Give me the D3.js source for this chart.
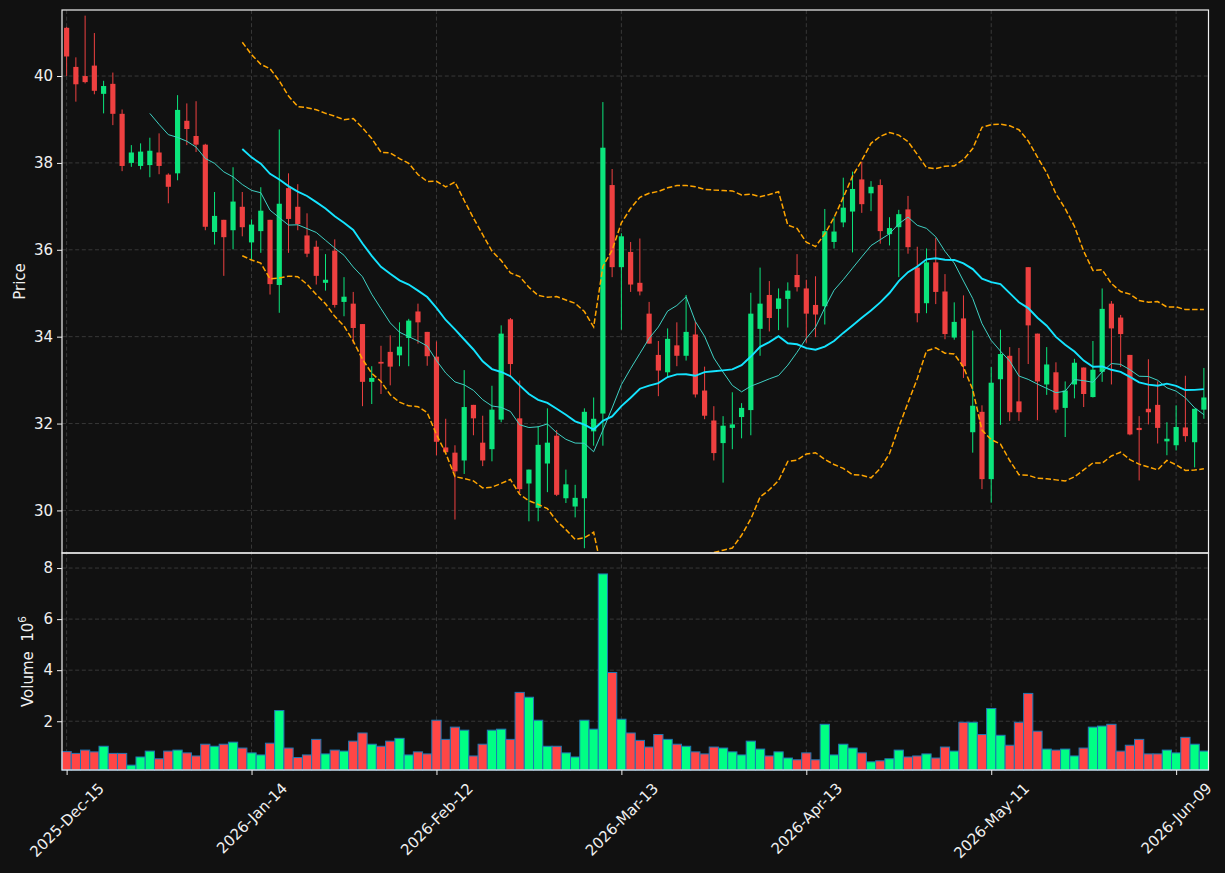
<!DOCTYPE html>
<html>
<head>
<meta charset="utf-8">
<script src="https://cdn.jsdelivr.net/npm/d3@7"></script>
<style>
  body { margin: 0; background: #111111; }
  text { font-family: "DejaVu Sans", sans-serif; fill: #f0f0f0; }
</style>
</head>
<body>
<div id="chart"></div>
<script>
// daily bars (index 0 = 2025-Dec-15)
const openP = [41.11,40.21,40.00,40.24,39.59,39.82,39.13,38.00,37.93,37.95,
  38.24,37.73,37.76,38.97,38.62,38.42,36.41,36.69,36.45,36.99,
  36.17,36.43,36.69,35.19,37.42,36.99,36.33,36.07,35.24,35.98,
  34.80,34.76,34.29,32.96,33.42,33.65,33.57,33.97,34.58,34.11,
  33.54,31.45,31.33,31.15,32.43,31.56,31.41,32.09,34.40,32.12,
  30.62,30.06,31.08,31.72,30.28,30.09,30.28,31.82,32.23,37.49,
  35.60,35.95,35.24,34.53,33.58,33.18,33.80,33.56,34.05,32.76,
  32.07,31.55,31.90,32.15,32.31,34.18,34.96,34.64,34.87,35.42,
  35.11,34.73,34.70,36.18,36.63,36.88,37.62,37.30,37.49,36.36,
  36.52,36.93,35.59,34.77,35.71,35.04,33.98,34.42,31.80,32.27,
  30.72,33.02,33.56,32.51,35.60,34.07,32.90,33.18,32.36,32.90,
  33.29,32.61,33.19,34.76,34.44,33.58,31.90,32.34,32.43,31.59,
  31.50,31.91,31.57,32.32];
const highP = [41.13,40.43,41.39,40.99,39.89,40.08,39.23,38.41,38.45,38.58,
  38.68,37.76,39.56,39.37,39.42,38.44,37.33,36.69,37.90,37.33,
  36.70,37.44,36.69,38.77,37.76,37.51,36.84,36.21,35.90,36.24,
  35.37,35.03,34.29,33.32,33.79,34.03,34.33,34.41,34.76,34.11,
  33.89,32.11,31.50,33.23,32.43,32.18,32.87,34.26,34.43,32.99,
  30.94,31.94,32.35,31.85,30.94,30.59,32.35,32.60,39.40,37.86,
  36.38,36.18,36.26,34.80,33.90,34.19,34.33,34.96,34.35,33.31,
  32.40,32.17,32.72,32.47,35.01,35.59,35.28,35.11,35.25,35.90,
  35.31,35.39,36.94,36.76,37.66,37.80,38.03,37.58,37.62,36.75,
  36.92,37.24,36.07,36.03,36.27,35.44,34.79,34.95,34.14,32.42,
  33.30,34.16,33.76,33.74,35.60,34.07,33.76,33.41,32.97,33.49,
  33.29,33.90,35.11,34.82,34.50,33.58,32.17,33.48,32.97,32.03,
  32.42,33.10,32.34,33.28];
const lowP = [40.00,39.41,39.83,39.58,39.14,38.87,37.81,37.91,37.85,37.67,
  37.74,37.07,37.60,38.41,38.25,36.45,36.12,35.40,36.01,36.31,
  35.77,35.93,34.97,34.55,35.93,36.45,35.83,35.20,35.06,34.67,
  34.47,33.84,32.40,32.45,32.68,32.88,33.32,33.32,33.84,33.33,
  31.27,31.33,29.79,30.84,31.73,31.02,31.13,32.03,33.07,30.40,
  29.75,29.75,30.42,30.33,30.17,29.84,29.13,31.49,31.49,35.37,
  34.16,35.03,34.95,33.84,32.63,33.05,33.32,33.45,32.60,32.10,
  31.15,30.64,31.41,31.66,31.73,33.56,34.12,34.15,34.21,35.04,
  33.86,33.99,34.28,36.03,36.52,35.94,36.85,36.89,36.14,36.10,
  35.37,35.91,34.33,34.54,34.75,33.94,33.93,33.05,31.33,30.49,
  30.18,31.97,32.06,32.06,33.37,32.08,32.66,32.25,31.69,32.58,
  32.38,32.60,32.96,32.90,33.30,31.73,30.69,31.98,31.54,31.27,
  31.38,31.58,30.99,32.11];
const closeP = [40.45,39.81,39.86,39.66,39.77,39.13,37.93,38.24,38.26,38.28,
  37.93,37.45,39.22,38.78,38.42,36.53,36.78,36.29,37.11,36.52,
  36.58,36.90,35.21,37.06,36.71,36.59,35.91,35.40,35.31,34.73,
  34.92,34.20,32.96,33.05,33.38,33.31,33.77,34.37,34.33,33.55,
  31.58,31.34,30.90,32.38,32.12,31.15,32.32,34.07,33.37,30.49,
  30.94,31.51,31.56,30.36,30.60,30.29,32.27,32.11,38.35,35.60,
  36.31,35.20,35.04,33.84,33.22,33.95,33.56,34.11,32.67,32.18,
  31.32,31.95,31.98,32.36,34.53,34.76,34.43,34.88,35.06,35.14,
  34.53,34.51,36.43,36.42,36.97,37.40,37.05,37.45,36.43,36.50,
  36.82,36.06,34.54,35.71,35.03,34.06,34.34,33.32,32.41,30.72,
  32.94,33.60,32.26,32.26,34.26,32.97,33.36,32.32,32.76,33.40,
  32.68,33.24,34.64,34.19,34.06,31.75,31.85,32.26,31.90,31.65,
  31.92,31.71,32.34,32.60];
// volume in millions
const volume = [0.81,0.74,0.87,0.80,1.02,0.74,0.74,0.28,0.60,0.83,
  0.53,0.83,0.87,0.76,0.64,1.10,1.02,1.10,1.18,0.95,
  0.76,0.68,1.14,2.42,0.95,0.58,0.68,1.29,0.72,0.87,
  0.83,1.22,1.54,1.10,1.02,1.22,1.33,0.68,0.80,0.72,
  2.04,1.29,1.77,1.65,0.64,1.10,1.65,1.69,1.29,3.13,
  2.94,2.04,1.02,1.02,0.76,0.60,2.04,1.69,7.77,3.91,
  2.08,1.54,1.25,0.99,1.48,1.29,1.10,1.02,0.80,0.72,
  0.99,0.95,0.80,0.68,1.22,0.91,0.64,0.80,0.56,0.49,
  0.76,0.49,1.88,0.68,1.10,0.95,0.76,0.41,0.45,0.53,
  0.87,0.60,0.64,0.72,0.56,0.99,0.83,1.96,1.96,1.48,
  2.50,1.45,1.06,1.96,3.09,1.61,0.91,0.87,0.91,0.64,
  0.95,1.77,1.81,1.88,0.83,1.06,1.29,0.72,0.72,0.87,
  0.76,1.37,1.10,0.83];

const tickIdx = [0, 20, 40, 60, 80, 100, 120];
const tickLabels = ["2025-Dec-15", "2026-Jan-14", "2026-Feb-12", "2026-Mar-13",
                    "2026-Apr-13", "2026-May-11", "2026-Jun-09"];
const priceTicks = [30, 32, 34, 36, 38, 40];
const volTicks = [2, 4, 6, 8];

const W = 1225, H = 873;
const LEFT = 62, RIGHT = 1208.5, PTOP = 10, PBOT = 553, VBOT = 770;
const FS = 15;
const UP = "#0be57c", DOWN = "#ee4040", VUP = "#00ff84", VDOWN = "#ff4646";

const svg = d3.select("#chart").append("svg")
    .attr("width", W)
    .attr("height", H);

svg.append("rect").attr("width", W).attr("height", H).attr("fill", "#111111");

const x = d3.scaleLinear().domain([-0.5, 123.5]).range([LEFT, RIGHT]);
const yP = d3.scaleLinear().domain([29.02, 41.52]).range([PBOT, PTOP]);
const yV = d3.scaleLinear().domain([0.09, 8.59]).range([VBOT, PBOT]);
const step = x(1) - x(0);
const idx = d3.range(closeP.length);

svg.append("clipPath").attr("id", "clipPrice")
  .append("rect").attr("x", LEFT).attr("y", PTOP).attr("width", RIGHT - LEFT).attr("height", PBOT - PTOP);

//grids
const grid = svg.append("g")
    .attr("stroke", "#3c3c3c")
    .attr("stroke-width", 0.9)
    .attr("stroke-dasharray", "4,2.6");

grid.selectAll(".vg").data(tickIdx).enter().append("line")
    .attr("x1", d => x(d)).attr("x2", d => x(d))
    .attr("y1", PTOP).attr("y2", VBOT);
grid.selectAll(".hp").data(priceTicks).enter().append("line")
    .attr("x1", LEFT).attr("x2", RIGHT)
    .attr("y1", d => yP(d)).attr("y2", d => yP(d));
grid.selectAll(".hv").data(volTicks).enter().append("line")
    .attr("x1", LEFT).attr("x2", RIGHT)
    .attr("y1", d => yV(d)).attr("y2", d => yV(d));

//volume bars
svg.append("g").selectAll("rect").data(idx).enter().append("rect")
    .attr("x", i => x(i) - step / 2)
    .attr("width", step)
    .attr("y", i => yV(volume[i]))
    .attr("height", i => VBOT - yV(volume[i]))
    .attr("fill", i => closeP[i] >= openP[i] ? VUP : VDOWN)
    .attr("stroke", "#1f77b4")
    .attr("stroke-width", 1);

//candles
const priceG = svg.append("g").attr("clip-path", "url(#clipPrice)");
const bw = step * 0.56;

priceG.append("g").selectAll("line").data(idx).enter().append("line")
    .attr("x1", i => x(i)).attr("x2", i => x(i))
    .attr("y1", i => yP(highP[i])).attr("y2", i => yP(lowP[i]))
    .attr("stroke", i => closeP[i] >= openP[i] ? UP : DOWN)
    .attr("stroke-width", 1);

priceG.append("g").selectAll("rect").data(idx).enter().append("rect")
    .attr("x", i => x(i) - bw / 2)
    .attr("width", bw)
    .attr("y", i => yP(Math.max(openP[i], closeP[i])))
    .attr("height", i => Math.max(1, Math.abs(yP(openP[i]) - yP(closeP[i]))))
    .attr("fill", i => closeP[i] >= openP[i] ? UP : DOWN);

//moving averages and bands from the closes
function rolling(n, fn) {
    return idx.map(i => i < n - 1 ? null : fn(closeP.slice(i - n + 1, i + 1)));
}
const ma10 = rolling(10, d3.mean);
const ma20 = rolling(20, d3.mean);
const sd20 = rolling(20, a => { const m = d3.mean(a); return Math.sqrt(d3.mean(a, v => (v - m) * (v - m))); });
const upper = idx.map(i => ma20[i] == null ? null : ma20[i] + 2 * sd20[i]);
const lower = idx.map(i => ma20[i] == null ? null : ma20[i] - 2 * sd20[i]);

const lineOf = arr => d3.line()
    .defined(i => arr[i] != null)
    .x(i => x(i))
    .y(i => yP(arr[i]))(idx);

priceG.append("path").attr("d", lineOf(ma10))
    .attr("fill", "none").attr("stroke", "#3fd1c4").attr("stroke-width", 1);
priceG.append("path").attr("d", lineOf(ma20))
    .attr("fill", "none").attr("stroke", "#14e4ff").attr("stroke-width", 1.9);
[upper, lower].forEach(band => {
    priceG.append("path").attr("d", lineOf(band))
        .attr("fill", "none").attr("stroke", "#ffa500")
        .attr("stroke-width", 1.5).attr("stroke-dasharray", "5.5,2.4");
});

//axes
function styleAxis(g) {
    g.select(".domain").remove();
    g.selectAll(".tick line").attr("stroke", "#f0f0f0").attr("stroke-width", 1);
    g.selectAll(".tick text").attr("fill", "#f0f0f0").style("font-size", FS + "px")
        .style("font-family", "DejaVu Sans");
}

svg.append("g").attr("transform", "translate(" + LEFT + ",0)")
    .call(d3.axisLeft(yP).tickValues(priceTicks).tickFormat(d3.format("d")).tickSize(5).tickPadding(4))
    .call(styleAxis);

svg.append("g").attr("transform", "translate(" + LEFT + ",0)")
    .call(d3.axisLeft(yV).tickValues(volTicks).tickFormat(d3.format("d")).tickSize(5).tickPadding(4))
    .call(styleAxis);

const xAxis = svg.append("g").attr("transform", "translate(0," + VBOT + ")")
    .call(d3.axisBottom(x).tickValues(tickIdx).tickFormat((d, i) => tickLabels[i]).tickSize(5))
    .call(styleAxis);

xAxis.selectAll(".tick text").each(function () {
    const t = d3.select(this);
    t.attr("y", 0).attr("dy", null)
        .attr("text-anchor", "middle")
        .attr("dominant-baseline", "central");
    const len = this.getComputedTextLength();
    const half = (len + FS * 1.1) * 0.3536;
    t.attr("transform", "translate(0," + (10 + half) + ") rotate(-45)");
});

//spines
[[PTOP, PBOT], [PBOT, VBOT]].forEach(p => {
    svg.append("rect")
        .attr("x", LEFT).attr("y", p[0])
        .attr("width", RIGHT - LEFT).attr("height", p[1] - p[0])
        .attr("fill", "none").attr("stroke", "#f0f0f0").attr("stroke-width", 1.2);
});

//axis labels
svg.append("text")
    .attr("transform", "translate(24.5," + (PTOP + PBOT) / 2 + ") rotate(-90)")
    .attr("text-anchor", "middle")
    .style("font-size", FS + "px")
    .text("Price");

const volLabel = svg.append("text")
    .attr("transform", "translate(32.5," + (PBOT + VBOT) / 2 + ") rotate(-90)")
    .attr("text-anchor", "middle")
    .style("white-space", "pre")
    .style("font-size", FS + "px");
volLabel.append("tspan").text("Volume  10");
volLabel.append("tspan").attr("dy", -6.5).style("font-size", "10.5px").text("6");
</script>
</body>
</html>
